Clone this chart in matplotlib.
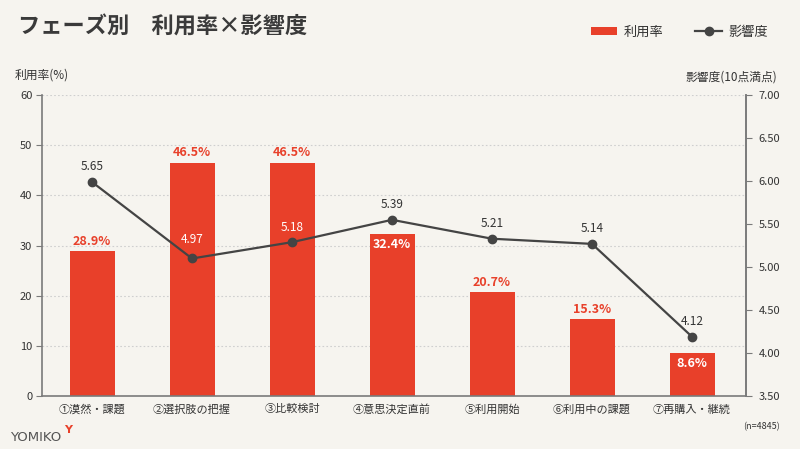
import matplotlib.pyplot as plt
from matplotlib.lines import Line2D
from matplotlib.patches import Patch

plt.rcParams['font.family'] = ['Noto Sans CJK JP', 'DejaVu Sans']

phases = ["①漠然・課題", "②選択肢の把握", "③比較検討", "④意思決定直前",
          "⑤利用開始", "⑥利用中の課題", "⑦再購入・継続"]
usage = [28.9, 46.5, 46.5, 32.4, 20.7, 15.3, 8.6]          # 利用率 (%)
impact = [5.65, 4.97, 5.18, 5.39, 5.21, 5.14, 4.12]        # 影響度 (printed values)
impact_drawn = [5.99, 5.10, 5.29, 5.55, 5.33, 5.27, 4.19]  # where the markers sit on the right axis

bg = "#f6f4ef"
red = "#e8402a"
dark = "#444444"
text_c = "#333333"
axis_c = "#7a7a7a"

fig = plt.figure(figsize=(8, 4.49), dpi=100, facecolor=bg)
ax = fig.add_axes([0.0525, 0.118, 0.88, 0.670])
ax.set_facecolor(bg)
x = list(range(len(phases)))

ax.bar(x, usage, width=0.45, color=red, zorder=2)
ax.set_ylim(0, 60)
ax.set_xlim(-0.5, 6.54)
ax.set_yticks(range(0, 61, 10))
ax.yaxis.grid(True, linestyle=(0, (1.5, 2)), color="#cfcfcf", linewidth=0.8, zorder=0)
ax.set_axisbelow(True)
ax.set_xticks(x)
ax.set_xticklabels(phases, fontsize=8, color=text_c)
ax.tick_params(axis='x', length=0, pad=6)
ax.tick_params(axis='y', length=4, color=axis_c, labelsize=8, labelcolor=text_c, pad=3)
ax.spines["top"].set_visible(False)
for s in ["left", "bottom", "right"]:
    ax.spines[s].set_color(axis_c)
    ax.spines[s].set_linewidth(1.2)

ax2 = ax.twinx()
ax2.set_ylim(3.5, 7.0)
ax2.set_yticks([3.5, 4.0, 4.5, 5.0, 5.5, 6.0, 6.5, 7.0])
ax2.set_yticklabels([f"{v:.2f}" for v in ax2.get_yticks()])
ax2.tick_params(axis='y', length=4, color=axis_c, labelsize=8, labelcolor=text_c, pad=5)
for s in ["top", "left", "bottom"]:
    ax2.spines[s].set_visible(False)
ax2.spines["right"].set_color(axis_c)
ax2.spines["right"].set_linewidth(1.2)
ax2.plot(x, impact_drawn, color=dark, linewidth=1.6, marker='o', markersize=6, zorder=3)

# bar value labels (white inside where the line runs over the bar)
inside = [3, 6]
for i, v in enumerate(usage):
    if i in inside:
        ax.annotate(f"{v}%", (i, v), xytext=(0, -11), textcoords="offset pixels",
                    ha="center", va="center", color="white", fontsize=9, fontweight="bold", zorder=4)
    else:
        ax.annotate(f"{v}%", (i, v), xytext=(0, 10), textcoords="offset pixels",
                    ha="center", va="center", color=red, fontsize=9, fontweight="bold", zorder=4)

# line value labels
white_line = [1, 2]
for i, (v, d) in enumerate(zip(impact, impact_drawn)):
    col = "white" if i in white_line else text_c
    off = 19 if i == 1 else 15
    ax2.annotate(f"{v:.2f}", (i, d), xytext=(0, off), textcoords="offset pixels",
                 ha="center", va="center", color=col, fontsize=8.5, zorder=5)

fig.text(0.022, 0.94, "フェーズ別　利用率×影響度", fontsize=16, fontweight="bold",
         color="#3a3a3a", ha="left", va="center")
fig.text(0.018, 0.833, "利用率(%)", fontsize=8.5, color=text_c, ha="left", va="center")
fig.text(0.972, 0.828, "影響度(10点満点)", fontsize=8.5, color=text_c, ha="right", va="center")
fig.text(0.975, 0.049, "(n=4845)", fontsize=6.5, color=text_c, ha="right", va="center")
fig.text(0.012, 0.025, "YOMIKO", fontsize=9.5, color="#555555", ha="left", va="center",
         family="DejaVu Sans")
fig.text(0.080, 0.043, "Y", fontsize=8, color=red, ha="left", va="center",
         fontweight="bold", family="DejaVu Sans")

handles = [Patch(facecolor=red, edgecolor="none"),
           Line2D([0], [0], color=dark, linewidth=1.6, marker='o', markersize=6)]
fig.legend(handles, ["利用率", "影響度"], ncol=2, loc="center right",
           bbox_to_anchor=(0.975, 0.928), frameon=False, fontsize=9.5,
           handlelength=2.0, handleheight=0.6, columnspacing=2.4, handletextpad=0.5,
           labelcolor=text_c)

fig.savefig("out.png", dpi=100, facecolor=bg)
